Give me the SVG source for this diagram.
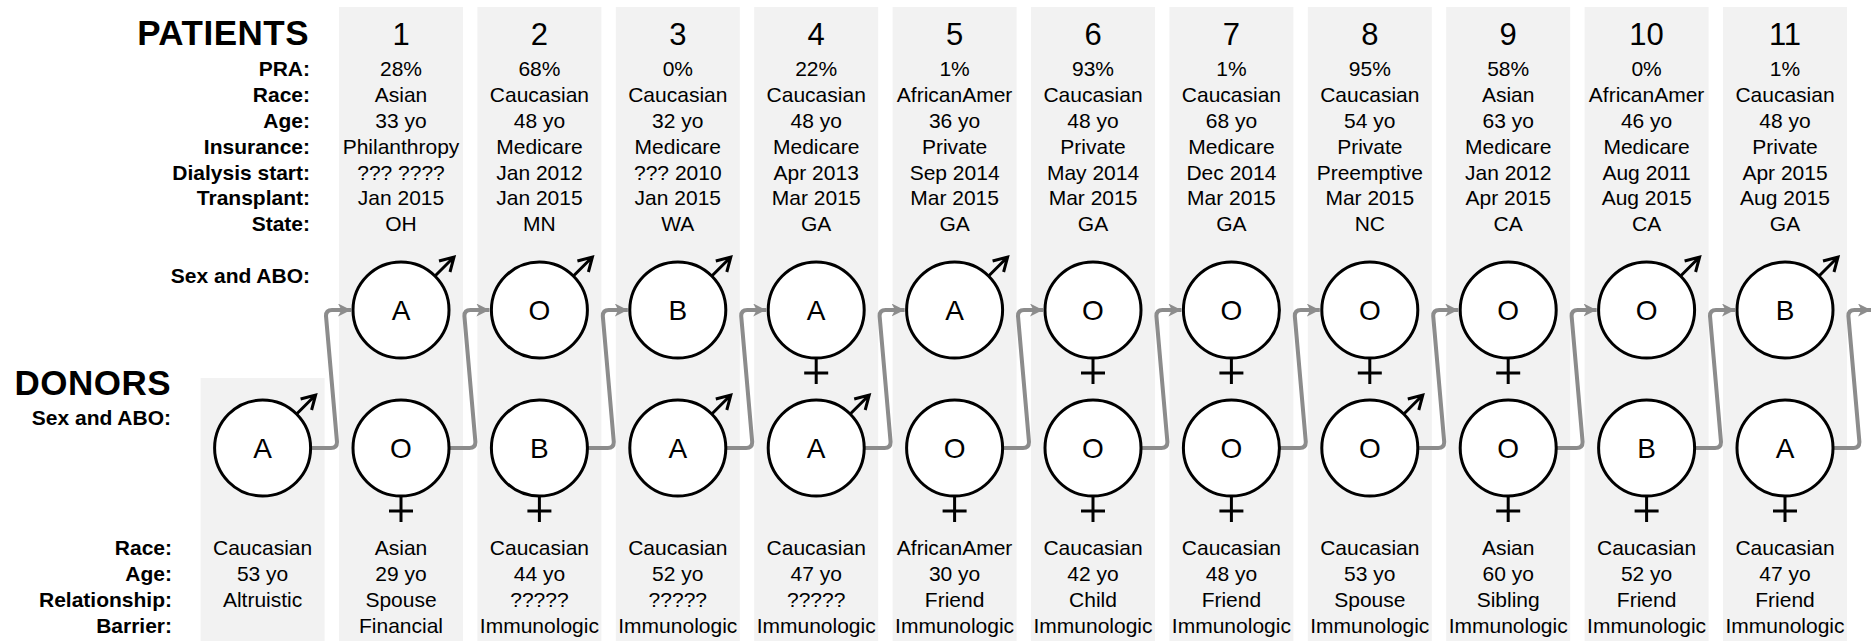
<svg xmlns="http://www.w3.org/2000/svg" xmlns:xlink="http://www.w3.org/1999/xlink" width="1873" height="641" viewBox="0 0 1873 641">
<style>
text{font-family:"Liberation Sans",Arial,sans-serif;fill:#000}
.title{font-size:35px;font-weight:bold;text-anchor:end;letter-spacing:0.5px}
.lbl{font-size:21px;font-weight:bold;text-anchor:end}
.val{font-size:21px;text-anchor:middle}
.num{font-size:31px;text-anchor:middle}
.abo{font-size:28px;text-anchor:middle}
.col{fill:#f2f2f2}
.node{fill:#fff;stroke:#000;stroke-width:3}
.sym{fill:none;stroke:#000;stroke-width:3}
.conn{fill:none;stroke:#8c8c8c;stroke-width:4;stroke-linejoin:round}
</style>
<defs>
<marker id="arr" markerUnits="userSpaceOnUse" markerWidth="15" markerHeight="15" refX="13" refY="6.5" orient="auto">
<path d="M0,0 L13,6.5 L0,13 L3.5,6.5 z" fill="#8c8c8c"/>
</marker>
<g id="male"><path class="sym" d="M34,-34 L53,-53 M38,-49 L53,-53 L49,-38"/></g>
<g id="female"><path class="sym" d="M0,48 L0,74 M-12,63 L12,63"/></g>
</defs>
<rect width="1873" height="641" fill="#fff"/>
<g id="columns">
<rect class="col" x="200.6" y="378" width="124" height="263"/>
<rect class="col" x="339" y="7" width="124" height="634"/>
<rect class="col" x="477.4" y="7" width="124" height="634"/>
<rect class="col" x="615.8" y="7" width="124" height="634"/>
<rect class="col" x="754.2" y="7" width="124" height="634"/>
<rect class="col" x="892.6" y="7" width="124" height="634"/>
<rect class="col" x="1031" y="7" width="124" height="634"/>
<rect class="col" x="1169.4" y="7" width="124" height="634"/>
<rect class="col" x="1307.8" y="7" width="124" height="634"/>
<rect class="col" x="1446.2" y="7" width="124" height="634"/>
<rect class="col" x="1584.6" y="7" width="124" height="634"/>
<rect class="col" x="1723" y="7" width="124" height="634"/>
</g>
<g id="labels">
<text class="title" x="309" y="45">PATIENTS</text>
<text class="lbl" x="310" y="76">PRA:</text>
<text class="lbl" x="310" y="102">Race:</text>
<text class="lbl" x="310" y="128">Age:</text>
<text class="lbl" x="310" y="154">Insurance:</text>
<text class="lbl" x="310" y="180">Dialysis start:</text>
<text class="lbl" x="310" y="205">Transplant:</text>
<text class="lbl" x="310" y="231">State:</text>
<text class="lbl" x="310" y="283">Sex and ABO:</text>
<text class="title" x="171" y="395">DONORS</text>
<text class="lbl" x="171" y="425">Sex and ABO:</text>
<text class="lbl" x="172" y="555">Race:</text>
<text class="lbl" x="172" y="581">Age:</text>
<text class="lbl" x="172" y="607">Relationship:</text>
<text class="lbl" x="172" y="633">Barrier:</text>
</g>
<g id="connectors">
<path class="conn" marker-end="url(#arr)" d="M311,448 L331,448 Q337,448 337,442 L326,316 Q326,310 332,310 L351,310"/>
<path class="conn" marker-end="url(#arr)" d="M449,448 L469.4,448 Q475.4,448 475.4,442 L464.4,316 Q464.4,310 470.4,310 L489.4,310"/>
<path class="conn" marker-end="url(#arr)" d="M587.4,448 L607.8,448 Q613.8,448 613.8,442 L602.8,316 Q602.8,310 608.8,310 L627.8,310"/>
<path class="conn" marker-end="url(#arr)" d="M725.8,448 L746.2,448 Q752.2,448 752.2,442 L741.2,316 Q741.2,310 747.2,310 L766.2,310"/>
<path class="conn" marker-end="url(#arr)" d="M864.2,448 L884.6,448 Q890.6,448 890.6,442 L879.6,316 Q879.6,310 885.6,310 L904.6,310"/>
<path class="conn" marker-end="url(#arr)" d="M1002.6,448 L1023,448 Q1029,448 1029,442 L1018,316 Q1018,310 1024,310 L1043,310"/>
<path class="conn" marker-end="url(#arr)" d="M1141,448 L1161.4,448 Q1167.4,448 1167.4,442 L1156.4,316 Q1156.4,310 1162.4,310 L1181.4,310"/>
<path class="conn" marker-end="url(#arr)" d="M1279.4,448 L1299.8,448 Q1305.8,448 1305.8,442 L1294.8,316 Q1294.8,310 1300.8,310 L1319.8,310"/>
<path class="conn" marker-end="url(#arr)" d="M1417.8,448 L1438.2,448 Q1444.2,448 1444.2,442 L1433.2,316 Q1433.2,310 1439.2,310 L1458.2,310"/>
<path class="conn" marker-end="url(#arr)" d="M1556.2,448 L1576.6,448 Q1582.6,448 1582.6,442 L1571.6,316 Q1571.6,310 1577.6,310 L1596.6,310"/>
<path class="conn" marker-end="url(#arr)" d="M1694.6,448 L1715,448 Q1721,448 1721,442 L1710,316 Q1710,310 1716,310 L1735,310"/>
<path class="conn" marker-end="url(#arr)" d="M1833,448 L1853.4,448 Q1859.4,448 1859.4,442 L1848.4,316 Q1848.4,310 1854.4,310 L1871,310"/>
</g>
<g id="donor-0" transform="translate(262.6,0)">
<circle class="node" cx="0" cy="448" r="48"/><use xlink:href="#male" href="#male" y="448"/>
<text class="abo" x="0" y="458">A</text>
<text class="val" x="0" y="555">Caucasian</text><text class="val" x="0" y="581">53 yo</text><text class="val" x="0" y="607">Altruistic</text>
</g>
<g id="patient-1" transform="translate(401,0)">
<text class="num" x="0" y="45">1</text>
<text class="val" x="0" y="76">28%</text><text class="val" x="0" y="102">Asian</text><text class="val" x="0" y="128">33 yo</text><text class="val" x="0" y="154">Philanthropy</text><text class="val" x="0" y="180">??? ????</text><text class="val" x="0" y="205">Jan 2015</text><text class="val" x="0" y="231">OH</text>
<circle class="node" cx="0" cy="310" r="48"/><use xlink:href="#male" href="#male" y="310"/>
<text class="abo" x="0" y="320">A</text>
</g>
<g id="donor-1" transform="translate(401,0)">
<circle class="node" cx="0" cy="448" r="48"/><use xlink:href="#female" href="#female" y="448"/>
<text class="abo" x="0" y="458">O</text>
<text class="val" x="0" y="555">Asian</text><text class="val" x="0" y="581">29 yo</text><text class="val" x="0" y="607">Spouse</text><text class="val" x="0" y="633">Financial</text>
</g>
<g id="patient-2" transform="translate(539.4,0)">
<text class="num" x="0" y="45">2</text>
<text class="val" x="0" y="76">68%</text><text class="val" x="0" y="102">Caucasian</text><text class="val" x="0" y="128">48 yo</text><text class="val" x="0" y="154">Medicare</text><text class="val" x="0" y="180">Jan 2012</text><text class="val" x="0" y="205">Jan 2015</text><text class="val" x="0" y="231">MN</text>
<circle class="node" cx="0" cy="310" r="48"/><use xlink:href="#male" href="#male" y="310"/>
<text class="abo" x="0" y="320">O</text>
</g>
<g id="donor-2" transform="translate(539.4,0)">
<circle class="node" cx="0" cy="448" r="48"/><use xlink:href="#female" href="#female" y="448"/>
<text class="abo" x="0" y="458">B</text>
<text class="val" x="0" y="555">Caucasian</text><text class="val" x="0" y="581">44 yo</text><text class="val" x="0" y="607">?????</text><text class="val" x="0" y="633">Immunologic</text>
</g>
<g id="patient-3" transform="translate(677.8,0)">
<text class="num" x="0" y="45">3</text>
<text class="val" x="0" y="76">0%</text><text class="val" x="0" y="102">Caucasian</text><text class="val" x="0" y="128">32 yo</text><text class="val" x="0" y="154">Medicare</text><text class="val" x="0" y="180">??? 2010</text><text class="val" x="0" y="205">Jan 2015</text><text class="val" x="0" y="231">WA</text>
<circle class="node" cx="0" cy="310" r="48"/><use xlink:href="#male" href="#male" y="310"/>
<text class="abo" x="0" y="320">B</text>
</g>
<g id="donor-3" transform="translate(677.8,0)">
<circle class="node" cx="0" cy="448" r="48"/><use xlink:href="#male" href="#male" y="448"/>
<text class="abo" x="0" y="458">A</text>
<text class="val" x="0" y="555">Caucasian</text><text class="val" x="0" y="581">52 yo</text><text class="val" x="0" y="607">?????</text><text class="val" x="0" y="633">Immunologic</text>
</g>
<g id="patient-4" transform="translate(816.2,0)">
<text class="num" x="0" y="45">4</text>
<text class="val" x="0" y="76">22%</text><text class="val" x="0" y="102">Caucasian</text><text class="val" x="0" y="128">48 yo</text><text class="val" x="0" y="154">Medicare</text><text class="val" x="0" y="180">Apr 2013</text><text class="val" x="0" y="205">Mar 2015</text><text class="val" x="0" y="231">GA</text>
<circle class="node" cx="0" cy="310" r="48"/><use xlink:href="#female" href="#female" y="310"/>
<text class="abo" x="0" y="320">A</text>
</g>
<g id="donor-4" transform="translate(816.2,0)">
<circle class="node" cx="0" cy="448" r="48"/><use xlink:href="#male" href="#male" y="448"/>
<text class="abo" x="0" y="458">A</text>
<text class="val" x="0" y="555">Caucasian</text><text class="val" x="0" y="581">47 yo</text><text class="val" x="0" y="607">?????</text><text class="val" x="0" y="633">Immunologic</text>
</g>
<g id="patient-5" transform="translate(954.6,0)">
<text class="num" x="0" y="45">5</text>
<text class="val" x="0" y="76">1%</text><text class="val" x="0" y="102">AfricanAmer</text><text class="val" x="0" y="128">36 yo</text><text class="val" x="0" y="154">Private</text><text class="val" x="0" y="180">Sep 2014</text><text class="val" x="0" y="205">Mar 2015</text><text class="val" x="0" y="231">GA</text>
<circle class="node" cx="0" cy="310" r="48"/><use xlink:href="#male" href="#male" y="310"/>
<text class="abo" x="0" y="320">A</text>
</g>
<g id="donor-5" transform="translate(954.6,0)">
<circle class="node" cx="0" cy="448" r="48"/><use xlink:href="#female" href="#female" y="448"/>
<text class="abo" x="0" y="458">O</text>
<text class="val" x="0" y="555">AfricanAmer</text><text class="val" x="0" y="581">30 yo</text><text class="val" x="0" y="607">Friend</text><text class="val" x="0" y="633">Immunologic</text>
</g>
<g id="patient-6" transform="translate(1093,0)">
<text class="num" x="0" y="45">6</text>
<text class="val" x="0" y="76">93%</text><text class="val" x="0" y="102">Caucasian</text><text class="val" x="0" y="128">48 yo</text><text class="val" x="0" y="154">Private</text><text class="val" x="0" y="180">May 2014</text><text class="val" x="0" y="205">Mar 2015</text><text class="val" x="0" y="231">GA</text>
<circle class="node" cx="0" cy="310" r="48"/><use xlink:href="#female" href="#female" y="310"/>
<text class="abo" x="0" y="320">O</text>
</g>
<g id="donor-6" transform="translate(1093,0)">
<circle class="node" cx="0" cy="448" r="48"/><use xlink:href="#female" href="#female" y="448"/>
<text class="abo" x="0" y="458">O</text>
<text class="val" x="0" y="555">Caucasian</text><text class="val" x="0" y="581">42 yo</text><text class="val" x="0" y="607">Child</text><text class="val" x="0" y="633">Immunologic</text>
</g>
<g id="patient-7" transform="translate(1231.4,0)">
<text class="num" x="0" y="45">7</text>
<text class="val" x="0" y="76">1%</text><text class="val" x="0" y="102">Caucasian</text><text class="val" x="0" y="128">68 yo</text><text class="val" x="0" y="154">Medicare</text><text class="val" x="0" y="180">Dec 2014</text><text class="val" x="0" y="205">Mar 2015</text><text class="val" x="0" y="231">GA</text>
<circle class="node" cx="0" cy="310" r="48"/><use xlink:href="#female" href="#female" y="310"/>
<text class="abo" x="0" y="320">O</text>
</g>
<g id="donor-7" transform="translate(1231.4,0)">
<circle class="node" cx="0" cy="448" r="48"/><use xlink:href="#female" href="#female" y="448"/>
<text class="abo" x="0" y="458">O</text>
<text class="val" x="0" y="555">Caucasian</text><text class="val" x="0" y="581">48 yo</text><text class="val" x="0" y="607">Friend</text><text class="val" x="0" y="633">Immunologic</text>
</g>
<g id="patient-8" transform="translate(1369.8,0)">
<text class="num" x="0" y="45">8</text>
<text class="val" x="0" y="76">95%</text><text class="val" x="0" y="102">Caucasian</text><text class="val" x="0" y="128">54 yo</text><text class="val" x="0" y="154">Private</text><text class="val" x="0" y="180">Preemptive</text><text class="val" x="0" y="205">Mar 2015</text><text class="val" x="0" y="231">NC</text>
<circle class="node" cx="0" cy="310" r="48"/><use xlink:href="#female" href="#female" y="310"/>
<text class="abo" x="0" y="320">O</text>
</g>
<g id="donor-8" transform="translate(1369.8,0)">
<circle class="node" cx="0" cy="448" r="48"/><use xlink:href="#male" href="#male" y="448"/>
<text class="abo" x="0" y="458">O</text>
<text class="val" x="0" y="555">Caucasian</text><text class="val" x="0" y="581">53 yo</text><text class="val" x="0" y="607">Spouse</text><text class="val" x="0" y="633">Immunologic</text>
</g>
<g id="patient-9" transform="translate(1508.2,0)">
<text class="num" x="0" y="45">9</text>
<text class="val" x="0" y="76">58%</text><text class="val" x="0" y="102">Asian</text><text class="val" x="0" y="128">63 yo</text><text class="val" x="0" y="154">Medicare</text><text class="val" x="0" y="180">Jan 2012</text><text class="val" x="0" y="205">Apr 2015</text><text class="val" x="0" y="231">CA</text>
<circle class="node" cx="0" cy="310" r="48"/><use xlink:href="#female" href="#female" y="310"/>
<text class="abo" x="0" y="320">O</text>
</g>
<g id="donor-9" transform="translate(1508.2,0)">
<circle class="node" cx="0" cy="448" r="48"/><use xlink:href="#female" href="#female" y="448"/>
<text class="abo" x="0" y="458">O</text>
<text class="val" x="0" y="555">Asian</text><text class="val" x="0" y="581">60 yo</text><text class="val" x="0" y="607">Sibling</text><text class="val" x="0" y="633">Immunologic</text>
</g>
<g id="patient-10" transform="translate(1646.6,0)">
<text class="num" x="0" y="45">10</text>
<text class="val" x="0" y="76">0%</text><text class="val" x="0" y="102">AfricanAmer</text><text class="val" x="0" y="128">46 yo</text><text class="val" x="0" y="154">Medicare</text><text class="val" x="0" y="180">Aug 2011</text><text class="val" x="0" y="205">Aug 2015</text><text class="val" x="0" y="231">CA</text>
<circle class="node" cx="0" cy="310" r="48"/><use xlink:href="#male" href="#male" y="310"/>
<text class="abo" x="0" y="320">O</text>
</g>
<g id="donor-10" transform="translate(1646.6,0)">
<circle class="node" cx="0" cy="448" r="48"/><use xlink:href="#female" href="#female" y="448"/>
<text class="abo" x="0" y="458">B</text>
<text class="val" x="0" y="555">Caucasian</text><text class="val" x="0" y="581">52 yo</text><text class="val" x="0" y="607">Friend</text><text class="val" x="0" y="633">Immunologic</text>
</g>
<g id="patient-11" transform="translate(1785,0)">
<text class="num" x="0" y="45">11</text>
<text class="val" x="0" y="76">1%</text><text class="val" x="0" y="102">Caucasian</text><text class="val" x="0" y="128">48 yo</text><text class="val" x="0" y="154">Private</text><text class="val" x="0" y="180">Apr 2015</text><text class="val" x="0" y="205">Aug 2015</text><text class="val" x="0" y="231">GA</text>
<circle class="node" cx="0" cy="310" r="48"/><use xlink:href="#male" href="#male" y="310"/>
<text class="abo" x="0" y="320">B</text>
</g>
<g id="donor-11" transform="translate(1785,0)">
<circle class="node" cx="0" cy="448" r="48"/><use xlink:href="#female" href="#female" y="448"/>
<text class="abo" x="0" y="458">A</text>
<text class="val" x="0" y="555">Caucasian</text><text class="val" x="0" y="581">47 yo</text><text class="val" x="0" y="607">Friend</text><text class="val" x="0" y="633">Immunologic</text>
</g>
</svg>
